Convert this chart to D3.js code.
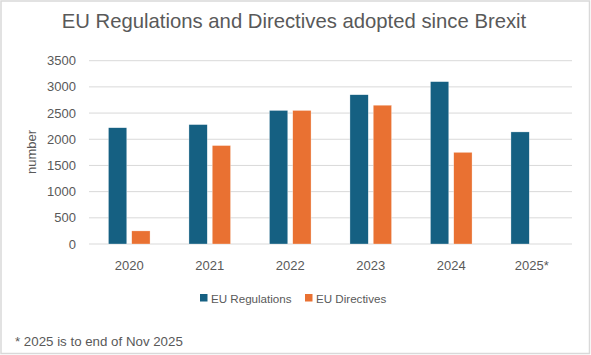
<!DOCTYPE html>
<html><head><meta charset="utf-8">
<script src="https://cdn.jsdelivr.net/npm/d3@7"></script>
<style>body{margin:0;background:#fff}svg{display:block}</style>
</head><body>
<script>
const categories = ["2020","2021","2022","2023","2024","2025*"];
const regulations = [2220, 2280, 2550, 2850, 3100, 2140];
const directives = [250, 1880, 2550, 2650, 1750, null];
const seriesNames = ["EU Regulations","EU Directives"];
const colors = ["#156082","#E97132"];
const yTicks = [0,500,1000,1500,2000,2500,3000,3500];

const W = 591, H = 355;
const font = "'Liberation Sans', Arial, sans-serif";
const svg = d3.select("body").append("svg").attr("width", W).attr("height", H);
svg.append("rect").attr("x",1).attr("y",1).attr("width",W-2.5).attr("height",H-2.5)
  .attr("fill","#fff").attr("stroke","#d9d9d9").attr("stroke-width",1.5);

const m = {left: 89, right: 572, top: 60.7, bottom: 244};
const x = d3.scaleBand().domain(categories).range([m.left, m.right]);
const y = d3.scaleLinear().domain([0,3500]).range([m.bottom, m.top]);

svg.append("g").selectAll("line").data(yTicks).join("line")
  .attr("x1", m.left).attr("x2", m.right)
  .attr("y1", d=>y(d)).attr("y2", d=>y(d))
  .attr("stroke","#d9d9d9").attr("stroke-width",1);

svg.append("g").selectAll("text").data(yTicks).join("text")
  .attr("x", 76).attr("y", d=>y(d)+4.5).attr("text-anchor","end")
  .attr("font-family",font).attr("font-size",13).attr("fill","#595959").text(d=>d);

svg.append("g").selectAll("text").data(categories).join("text")
  .attr("x", d=>x(d)+x.bandwidth()/2).attr("y", 270).attr("text-anchor","middle")
  .attr("font-family",font).attr("font-size",13).attr("fill","#595959").text(d=>d);

const bw = 18.3, gap = 5;
const series = [regulations, directives];
series.forEach((vals, si) => {
  svg.append("g").selectAll("rect").data(categories.map((c,i)=>({c, v: vals[i]})).filter(d=>d.v!=null))
    .join("rect")
    .attr("x", d => x(d.c) + x.bandwidth()/2 + (si===0 ? -(bw + gap/2) : gap/2))
    .attr("y", d => y(d.v)).attr("width", bw).attr("height", d => y(0)-y(d.v))
    .attr("fill", colors[si]).attr("stroke", "#fff").attr("stroke-width", 0.5).attr("stroke-opacity",0.6);
});

svg.append("text").attr("x", 294).attr("y", 28).attr("text-anchor","middle")
  .attr("font-family",font).attr("font-size",20.3).attr("fill","#595959")
  .text("EU Regulations and Directives adopted since Brexit");

svg.append("text").attr("transform","translate(36,152) rotate(-90)").attr("text-anchor","middle")
  .attr("font-family",font).attr("font-size",13).attr("fill","#595959").text("number");

const legX = [200, 305];
seriesNames.forEach((n,i)=>{
  svg.append("rect").attr("x", legX[i]).attr("y", 294).attr("width",7.5).attr("height",7.5).attr("fill",colors[i]);
  svg.append("text").attr("x", legX[i]+11).attr("y", 302.5).attr("font-family",font)
    .attr("font-size",11.6).attr("fill","#595959").text(n);
});

svg.append("text").attr("x", 15).attr("y", 346).attr("font-family",font)
  .attr("font-size",13.3).attr("fill","#595959").text("* 2025 is to end of Nov 2025");
</script>
</body></html>
